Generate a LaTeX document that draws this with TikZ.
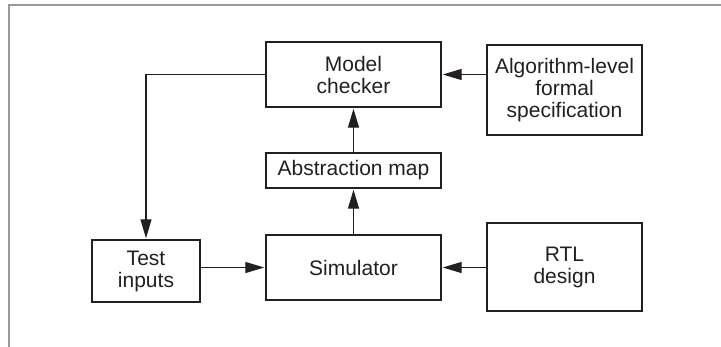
\documentclass[tikz,border=0pt]{standalone}
\usepackage{fontspec}
\setmainfont{Liberation Sans}
\usetikzlibrary{arrows.meta}
\definecolor{ink}{HTML}{231F20}
\definecolor{framegray}{HTML}{9A9A9A}
\begin{document}
\begin{tikzpicture}[x=1pt,y=-1pt,
  blockbox/.style={draw=ink, line width=1.4pt, inner sep=0pt, align=center,
    text=ink, font=\fontsize{21}{22}\selectfont},
  flow/.style={draw=ink, line width=1.3pt,
    -{Triangle[length=19pt,width=11pt]}, shorten >=1pt}]
  \useasboundingbox (0,0) rectangle (721,347);
  % outer frame (top and left edges)
  \draw[framegray, line width=1.5pt] (721,5) -- (9,5) -- (9,347);

  \node[blockbox, minimum width=175pt, minimum height=65pt] (mc) at (353.5,74.5) {Model\\checker};
  \node[blockbox, minimum width=155pt, minimum height=90pt] (alg) at (564.5,90) {Algorithm-level\\formal\\specification};
  \node[blockbox, minimum width=175pt, minimum height=35pt] (am) at (353.5,170.5) {Abstraction map};
  \node[blockbox, minimum width=108pt, minimum height=62pt] (ti) at (146,271) {Test\\inputs};
  \node[blockbox, minimum width=175pt, minimum height=65pt] (sim) at (353.5,267.5) {Simulator};
  \node[blockbox, minimum width=155pt, minimum height=88pt] (rtl) at (564.5,267) {RTL\\design};

  \draw[flow] (mc.east -| alg.west) -- (mc.east);
  \draw[flow] (am) -- (mc);
  \draw[flow] (sim) -- (am);
  \draw[flow] (rtl.west |- sim.east) -- (sim.east);
  \draw[flow] (ti.east |- sim.west) -- (sim.west);
  \draw[flow] (mc.west) -- (mc.west -| ti.north) -- (ti.north);
\end{tikzpicture}
\end{document}
